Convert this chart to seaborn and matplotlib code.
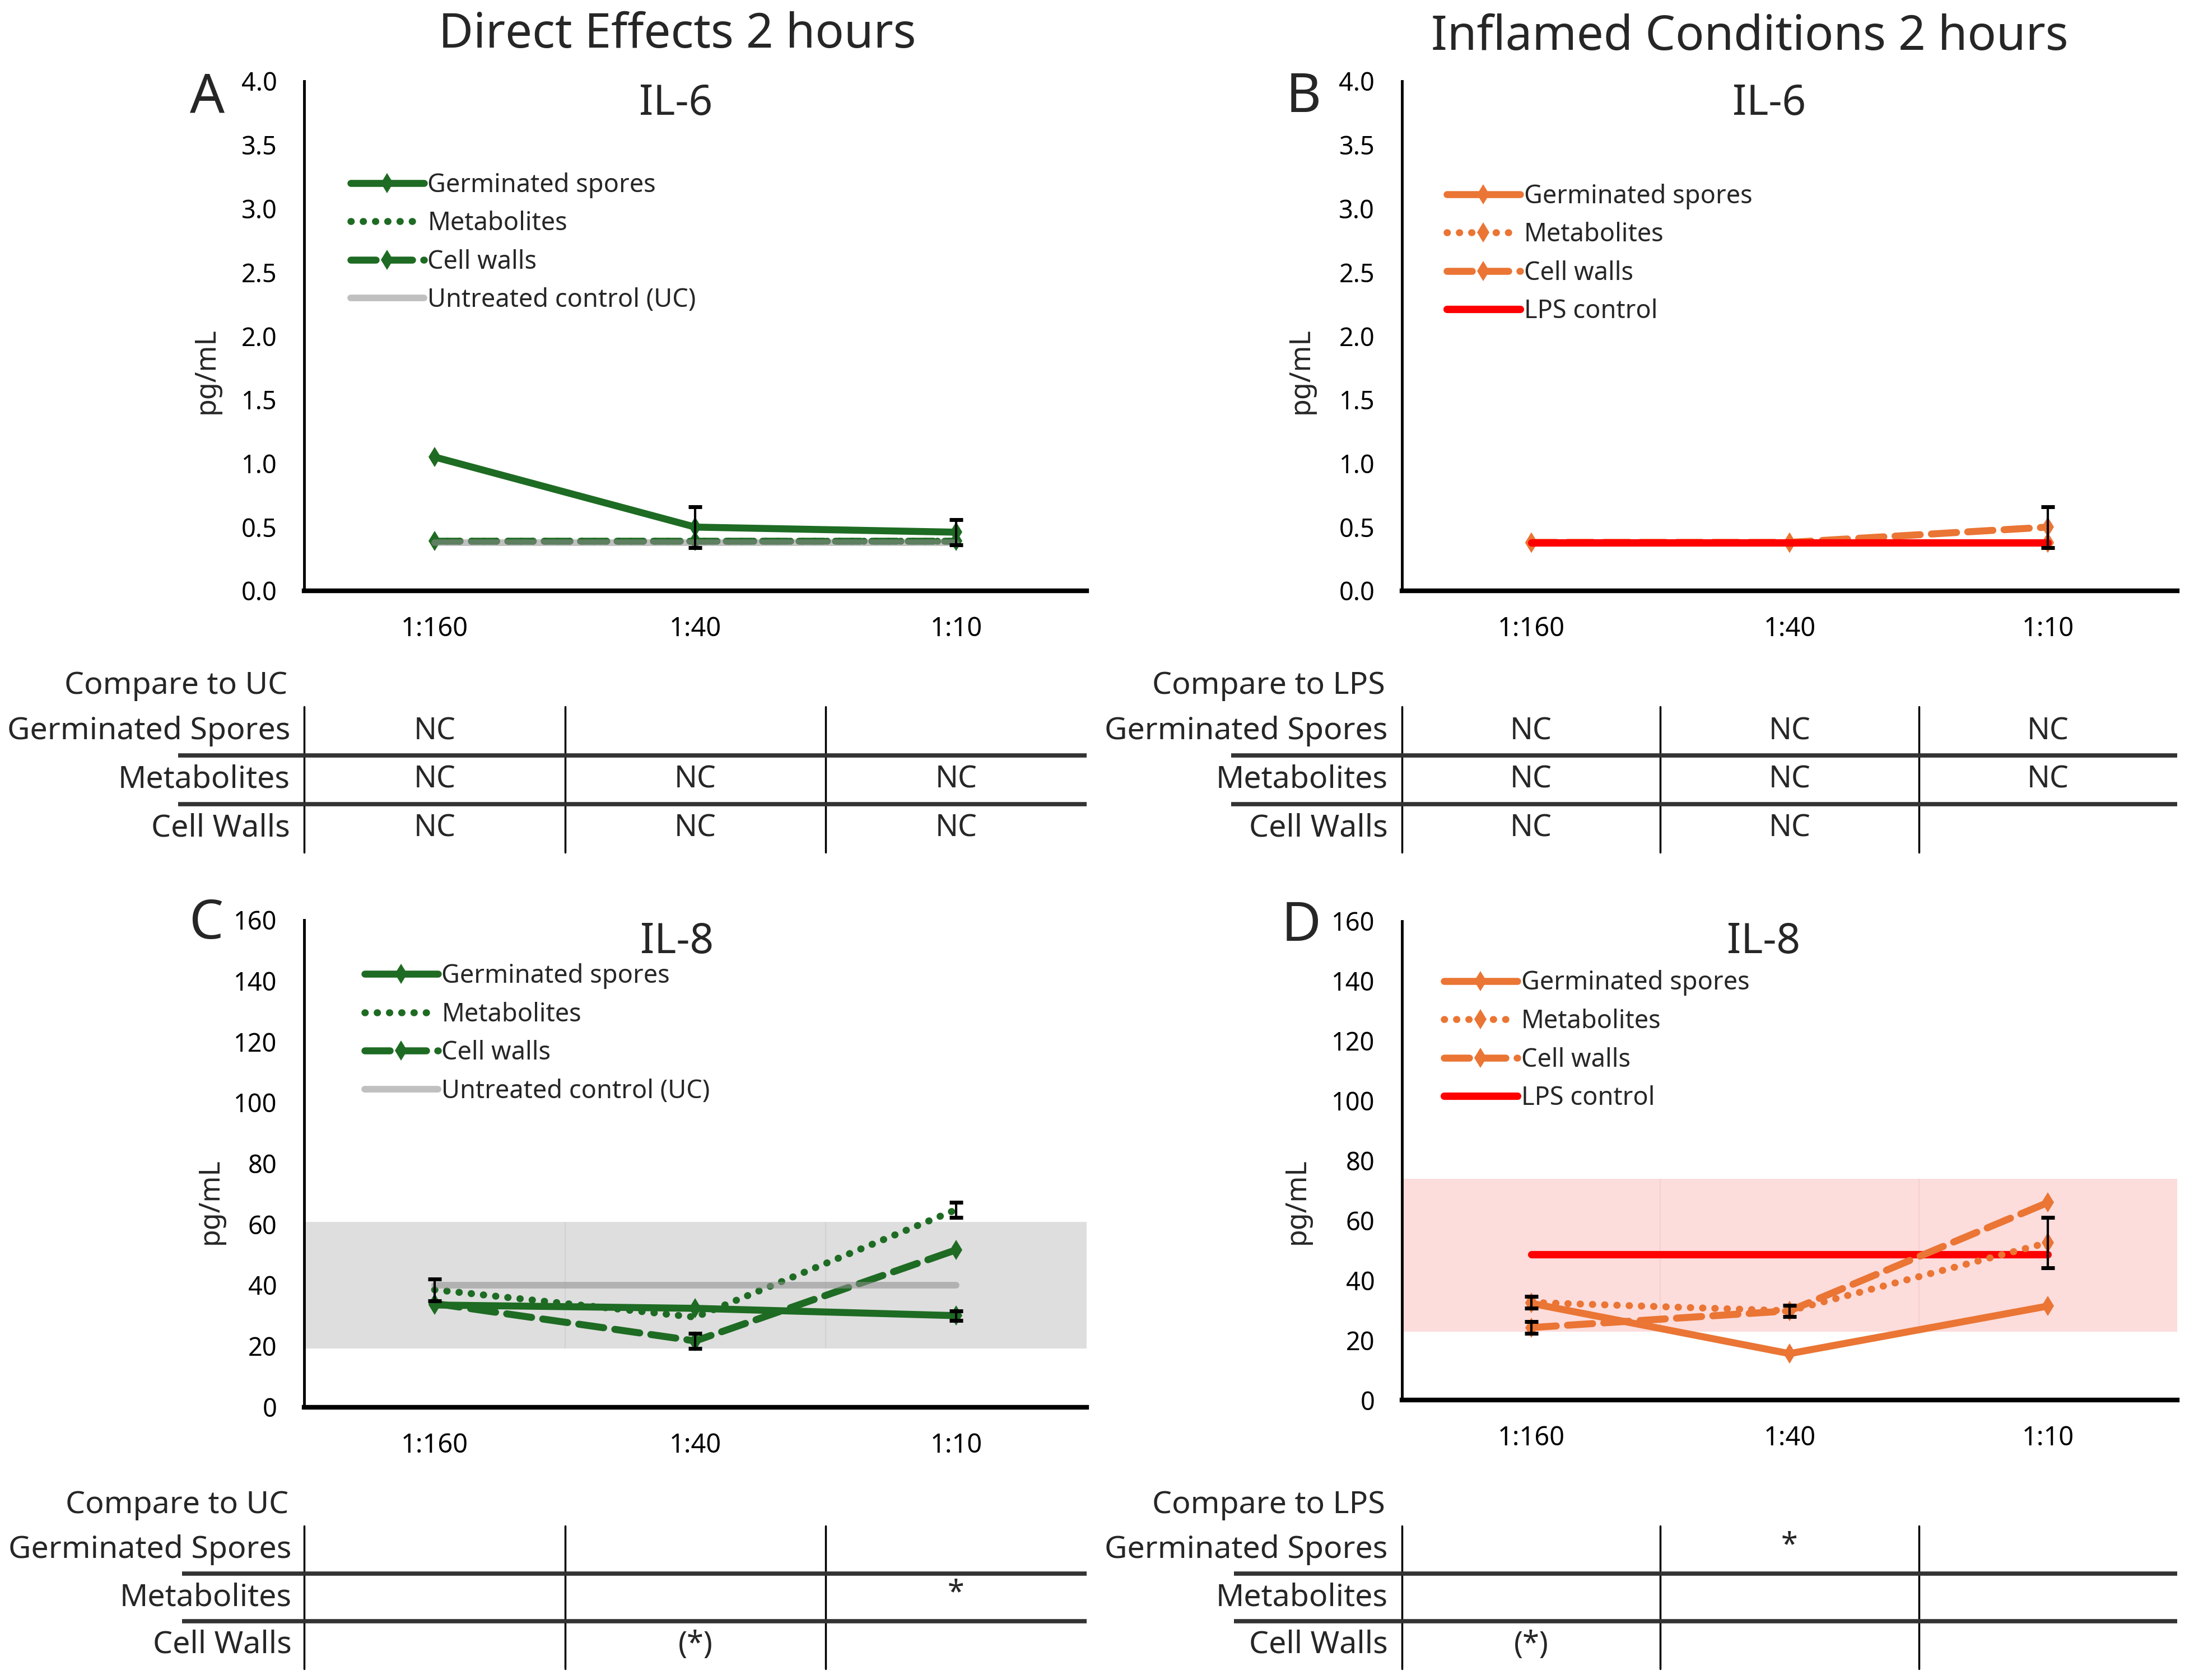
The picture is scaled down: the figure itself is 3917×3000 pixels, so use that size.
import numpy as np
import matplotlib
matplotlib.use("Agg")
import matplotlib.pyplot as plt
from matplotlib.lines import Line2D
import seaborn as sns

# ---- data ----
dilutions = ["1:160", "1:40", "1:10"]

# A: IL-6, direct effects
a_spores = [1.05, 0.50, 0.46]
a_spores_err = [0.0, 0.16, 0.10]
a_metab = [0.39, 0.39, 0.39]
a_walls = [0.39, 0.39, 0.39]
a_uc = [0.38, 0.38, 0.38]

# B: IL-6, inflamed conditions
b_spores = [0.38, 0.38, 0.38]
b_metab = [0.38, 0.38, 0.38]
b_walls = [0.38, 0.38, 0.50]
b_walls_err = [0.0, 0.0, 0.16]
b_lps = [0.38, 0.38, 0.38]

# C: IL-8, direct effects
c_spores = [33.5, 32.4, 30.0]
c_spores_err = [0.0, 0.0, 1.6]
c_metab = [38.5, 29.5, 64.8]
c_metab_err = [3.6, 0.0, 2.5]
c_walls = [34.0, 21.7, 51.6]
c_walls_err = [0.0, 2.4, 0.0]
c_uc = [40.0, 40.0, 40.0]
c_uc_range = [19.3, 60.7]

# D: IL-8, inflamed conditions
d_spores = [32.3, 15.5, 31.4]
d_metab = [32.6, 29.8, 52.6]
d_metab_err = [2.0, 1.9, 8.4]
d_walls = [24.2, 29.8, 66.0]
d_walls_err = [2.0, 0.0, 0.0]
d_lps = [48.7, 48.7, 48.7]
d_lps_range = [22.9, 73.9]

table_rows = ["Germinated Spores", "Metabolites", "Cell Walls"]
table_a = [["NC", "", ""], ["NC", "NC", "NC"], ["NC", "NC", "NC"]]
table_b = [["NC", "NC", "NC"], ["NC", "NC", "NC"], ["NC", "NC", ""]]
table_c = [["", "", ""], ["", "", "*"], ["", "(*)", ""]]
table_d = [["", "*", ""], ["", "", ""], ["(*)", "", ""]]

GREEN = "#1e6b23"
ORANGE = "#ea7534"
RED = "#ff0000"
UC_GRAY = "#909090"

sns.set_theme(style="white")
plt.rcParams["font.family"] = ["Noto Sans", "DejaVu Sans"]
plt.rcParams["axes.unicode_minus"] = False

W, H = 1565.0, 1200.0  # layout grid (display px)


def rect(l, r, t, b):
    return [l / W, 1 - b / H, (r - l) / W, (b - t) / H]


def fx(x):
    return x / W


def fy(y):
    return 1 - y / H


fig = plt.figure(figsize=(15.668, 12), dpi=250)
pos = np.arange(len(dilutions))

DOT = (0, (0.05, 1.7))
DASH = (0, (3.6, 1.6))
MS = 7.5


def draw_series(ax, vals, color, ls, marker, z, lw=3.6, alpha=1.0):
    sns.lineplot(x=pos, y=vals, ax=ax, color=color, linestyle=ls, lw=lw,
                 marker=marker, markersize=MS, markeredgewidth=0,
                 dash_capstyle="round", solid_capstyle="round",
                 alpha=alpha, zorder=z, legend=False, errorbar=None)


def draw_err(ax, vals, err):
    idx = [i for i, e in enumerate(err) if e > 0]
    if idx:
        ax.errorbar(pos[idx], np.array(vals)[idx], yerr=np.array(err)[idx],
                    fmt="none", ecolor="black", elinewidth=1.2, capsize=3.5,
                    capthick=2.0, zorder=6)


def style_axes(ax, ymax, ystep, fmt):
    ax.set_xlim(-0.5, 2.5)
    ax.set_ylim(0, ymax)
    ticks = np.arange(0, ymax + ystep / 2, ystep)
    ax.set_yticks(ticks)
    ax.set_yticklabels([fmt.format(v) for v in ticks])
    ax.set_xticks([-0.5, 0.5, 1.5, 2.5])
    ax.set_xticklabels([])
    ax.set_xticks(pos, minor=True)
    ax.set_xticklabels(dilutions, minor=True)
    ax.tick_params(axis="x", which="major", direction="out", length=7, width=1.6,
                   color="black")
    ax.tick_params(axis="x", which="minor", length=0, pad=13, labelsize=13.5,
                   labelcolor="black")
    ax.tick_params(axis="y", direction="out", length=4, width=2.0, pad=10,
                   labelsize=13, labelcolor="black", color="black")
    for s in ["top", "right"]:
        ax.spines[s].set_visible(False)
    ax.spines["left"].set_linewidth(1.4)
    ax.spines["left"].set_color("black")
    ax.spines["bottom"].set_linewidth(2.4)
    ax.spines["bottom"].set_color("black")
    ax.set_xlabel("")
    ax.set_ylabel("")
    ax.grid(False)
    ax.set_facecolor("white")


def legend(ax, handles, labels, x, y):
    ax.legend(handles, labels, loc="upper left",
              bbox_to_anchor=(fx(x), fy(y)), bbox_transform=fig.transFigure,
              frameon=False, fontsize=13, handlelength=2.9, handletextpad=0.15,
              labelspacing=0.5, borderpad=0, borderaxespad=0)


def handle(color, ls, marker, lw=3.6, alpha=1.0):
    return Line2D([0], [0], color=color, linestyle=ls, lw=lw, marker=marker,
                  markersize=MS, markeredgewidth=0, dash_capstyle="round",
                  solid_capstyle="round", alpha=alpha)


def table(l, r, t, b, data, title, title_y, line_l, label_x):
    tax = fig.add_axes(rect(l, r, t, b))
    tax.set_xlim(-0.5, 2.5)
    tax.set_ylim(3, 0)
    tax.axis("off")
    col_w = (r - l) / 3
    for j in [-0.5, 0.5, 1.5]:
        tax.plot([j, j], [0, 3], color="black", lw=1.0, clip_on=False)
    for i in [1, 2]:
        tax.plot([-0.5 - (l - line_l) / col_w, 2.5], [i, i],
                 color="#333333", lw=2.2, clip_on=False, solid_capstyle="butt")
    for i, row in enumerate(data):
        for j, txt in enumerate(row):
            if txt:
                yy = i + 0.5 if txt != "*" else i + 0.42
                tax.text(j, yy, txt, ha="center", va="center", fontsize=15.5)
    for i, lab in enumerate(table_rows):
        tax.text(-0.5 - (l - label_x) / col_w, i + 0.5, lab,
                 ha="right", va="center", fontsize=16, clip_on=False)
    fig.text(fx(label_x - 2), fy(title_y), title, ha="right", va="center",
             fontsize=16)


# ---- A ----
axA = fig.add_axes(rect(217, 775, 58, 422))
draw_series(axA, a_metab, GREEN, DOT, None, 3)
draw_series(axA, a_walls, GREEN, DASH, "d", 3.2)
draw_series(axA, a_spores, GREEN, "-", "d", 3.4)
draw_series(axA, a_uc, UC_GRAY, "-", None, 4, lw=3.4, alpha=0.57)
draw_err(axA, a_spores, a_spores_err)
style_axes(axA, 4.0, 0.5, "{:.1f}")
legend(axA, [handle(GREEN, "-", "d"), handle(GREEN, DOT, None),
             handle(GREEN, DASH, "d"), handle(UC_GRAY, "-", None, 3.4, 0.57)],
       ["Germinated spores", "Metabolites", "Cell walls",
        "Untreated control (UC)"], 250, 123)

# ---- B ----
axB = fig.add_axes(rect(1000, 1553, 58, 422))
draw_series(axB, b_spores, ORANGE, "-", "d", 3)
draw_series(axB, b_metab, ORANGE, DOT, "d", 3.1)
draw_series(axB, b_walls, ORANGE, DASH, "d", 3.2)
draw_series(axB, b_lps, RED, "-", None, 4, lw=3.8)
draw_err(axB, b_walls, b_walls_err)
style_axes(axB, 4.0, 0.5, "{:.1f}")
legend(axB, [handle(ORANGE, "-", "d"), handle(ORANGE, DOT, "d"),
             handle(ORANGE, DASH, "d"), handle(RED, "-", None, 3.8)],
       ["Germinated spores", "Metabolites", "Cell walls", "LPS control"],
       1032, 131)

# ---- C ----
axC = fig.add_axes(rect(217, 775, 657, 1005))
axC.axhspan(c_uc_range[0], c_uc_range[1], color="#dedede", zorder=0, lw=0)
axC.vlines([0.5, 1.5], c_uc_range[0], c_uc_range[1], color="#d2d2d2",
           lw=0.6, zorder=0.5)
draw_series(axC, c_metab, GREEN, DOT, None, 3)
draw_series(axC, c_walls, GREEN, DASH, "d", 3.2)
draw_series(axC, c_spores, GREEN, "-", "d", 3.4)
draw_series(axC, c_uc, UC_GRAY, "-", None, 4, lw=3.4, alpha=0.57)
draw_err(axC, c_spores, c_spores_err)
draw_err(axC, c_metab, c_metab_err)
draw_err(axC, c_walls, c_walls_err)
style_axes(axC, 160, 20, "{:.0f}")
legend(axC, [handle(GREEN, "-", "d"), handle(GREEN, DOT, None),
             handle(GREEN, DASH, "d"), handle(UC_GRAY, "-", None, 3.4, 0.57)],
       ["Germinated spores", "Metabolites", "Cell walls",
        "Untreated control (UC)"], 260, 688)

# ---- D ----
axD = fig.add_axes(rect(1000, 1553, 658, 1000))
axD.axhspan(d_lps_range[0], d_lps_range[1], color="#fddcdc", zorder=0, lw=0)
axD.vlines([0.5, 1.5], d_lps_range[0], d_lps_range[1], color="#f5d0d0",
           lw=0.6, zorder=0.5)
draw_series(axD, d_lps, RED, "-", None, 2, lw=3.8)
draw_series(axD, d_spores, ORANGE, "-", "d", 3)
draw_series(axD, d_metab, ORANGE, DOT, "d", 3.1)
draw_series(axD, d_walls, ORANGE, DASH, "d", 3.2)
draw_err(axD, d_metab, d_metab_err)
draw_err(axD, d_walls, d_walls_err)
style_axes(axD, 160, 20, "{:.0f}")
legend(axD, [handle(ORANGE, "-", "d"), handle(ORANGE, DOT, "d"),
             handle(ORANGE, DASH, "d"), handle(RED, "-", None, 3.8)],
       ["Germinated spores", "Metabolites", "Cell walls", "LPS control"],
       1030, 693)

# ---- titles, panel letters, axis labels ----
fig.text(fx(483), fy(25), "Direct Effects 2 hours", ha="center", va="center",
         fontsize=24.5)
fig.text(fx(1248), fy(27), "Inflamed Conditions 2 hours", ha="center",
         va="center", fontsize=24.5)
for x, y, s in [(482, 74, "IL-6"), (1262, 74, "IL-6"),
                (483, 673, "IL-8"), (1258, 673, "IL-8")]:
    fig.text(fx(x), fy(y), s, ha="center", va="center", fontsize=21.5)
for x, y, s in [(148, 70, "A"), (930, 70, "B"), (147, 660, "C"),
                (928, 662, "D")]:
    fig.text(fx(x), fy(y), s, ha="center", va="center", fontsize=28)
for x, y in [(147, 265), (928, 265), (150, 858), (925, 858)]:
    fig.text(fx(x), fy(y), "pg/mL", ha="center", va="center", fontsize=14.5,
             rotation=90)

# ---- comparison tables ----
table(217, 775, 505, 609, table_a, "Compare to UC", 490, 127, 207)
table(1000, 1553, 505, 609, table_b, "Compare to LPS", 490, 878, 990)
table(217, 775, 1090, 1192, table_c, "Compare to UC", 1075, 130, 208)
table(1000, 1553, 1090, 1192, table_d, "Compare to LPS", 1075, 880, 990)

fig.savefig("out.png", dpi=250, facecolor="white")
